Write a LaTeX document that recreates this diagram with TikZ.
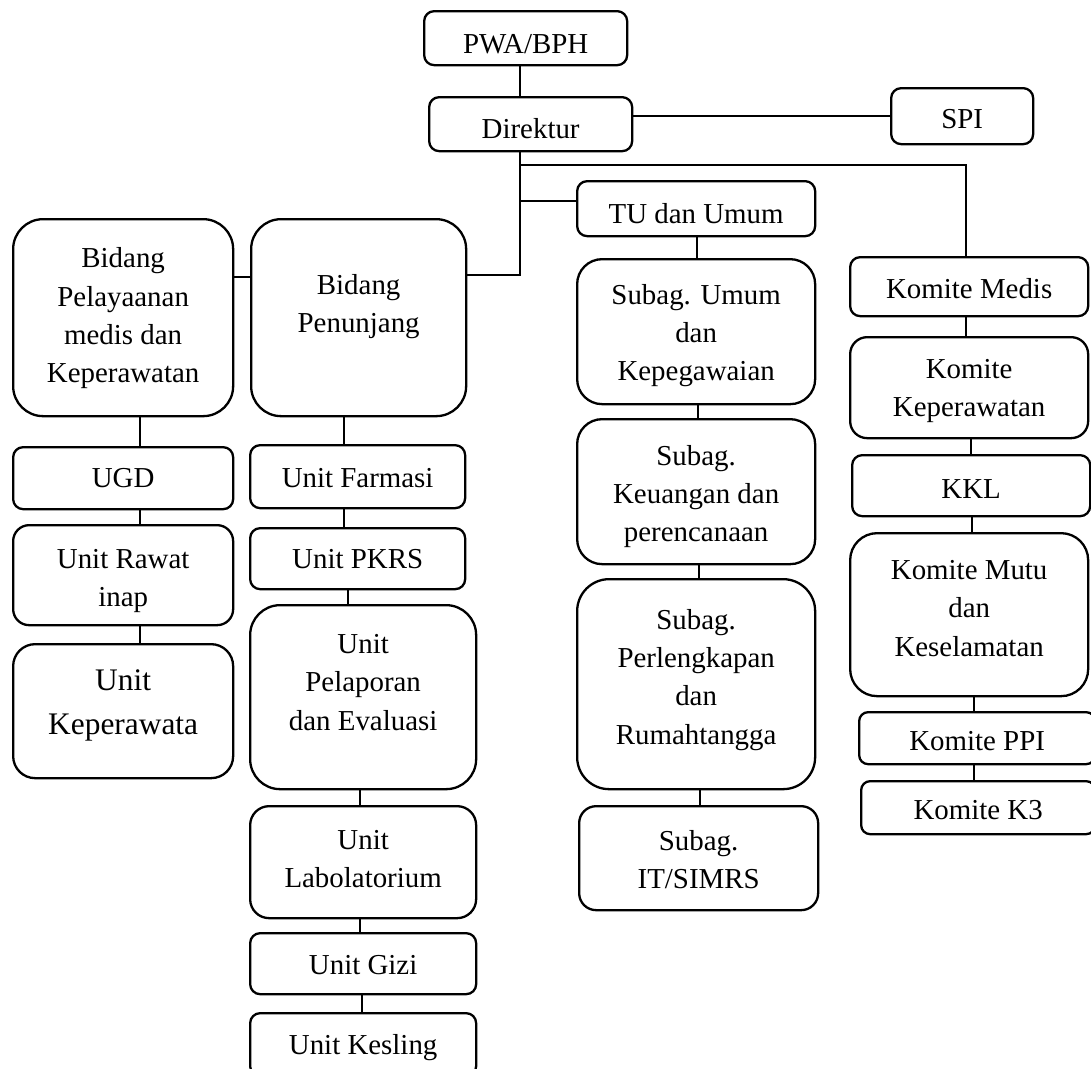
\documentclass[tikz,border=0pt]{standalone}
\usepackage{fontspec}
\setmainfont{Liberation Serif}
\newcommand{\lbl}[2][-3pt]{\raisebox{#1}[\height][\depth]{\begin{tabular}{@{}c@{}}#2\end{tabular}}}
\newcommand{\drop}[3]{\draw[link] ([xshift=#3]#1.south) -- ([xshift=#3]#1.south |- #2.north);}

\begin{document}
\begin{tikzpicture}[x=1pt, y=-1pt,
  font={\fontsize{28.9pt}{38.3pt}\selectfont},
  box/.style 2 args={draw, line width=2.3pt, anchor=north west, inner sep=0pt,
    minimum width=#1, minimum height=#2},
  link/.style={draw, line width=1.9pt}
]
\useasboundingbox (0,0) rectangle (1091,1068);
% top
\node[box={203pt}{54pt}, rounded corners=10pt] (pwa) at (423,10) {\lbl[-8pt]{PWA/BPH}};
\node[box={203pt}{54pt}, rounded corners=10pt] (direktur) at (428,96) {\lbl[-7pt]{Direktur}};
\node[box={142pt}{56pt}, rounded corners=10pt] (spi) at (890,87) {\lbl[-5pt]{SPI}};
\node[box={238pt}{55pt}, rounded corners=10pt] (tu) at (576,180) {\lbl[-7pt]{TU dan Umum}};
% bidang
\node[box={220pt}{197pt}, rounded corners=30pt] (bidpel) at (12,218) {\lbl[0pt]{Bidang\\Pelayaanan\\medis dan\\Keperawatan}};
\node[box={215pt}{197pt}, rounded corners=30pt] (bidpen) at (250,218) {\lbl[12pt]{Bidang\\Penunjang}};
\node[box={220pt}{62pt}, rounded corners=10pt] (ugd) at (12,446) {\lbl[-2pt]{UGD}};
\node[box={220pt}{100pt}, rounded corners=16pt] (rawat) at (12,524) {\lbl[-5pt]{Unit Rawat\\inap}};
\node[box={220pt}{134pt}, rounded corners=22pt, font={\fontsize{31.4pt}{44pt}\selectfont}] (keperawata) at (12,643) {\lbl[7.5pt]{Unit\\Keperawata}};
\node[box={215pt}{63pt}, rounded corners=10pt] (farmasi) at (249,444) {\lbl[-3pt]{Unit Farmasi}};
\node[box={215pt}{61pt}, rounded corners=10pt] (pkrs) at (249,527) {\lbl[-2pt]{Unit PKRS}};
\node[box={226pt}{184pt}, rounded corners=30pt] (pelaporan) at (249,604) {\lbl[13pt]{Unit\\Pelaporan\\dan Evaluasi}};
\node[box={226pt}{112pt}, rounded corners=19pt] (lab) at (249,805) {\lbl[1pt]{Unit\\Labolatorium}};
\node[box={226pt}{61pt}, rounded corners=10pt] (gizi) at (249,932) {\lbl[-3pt]{Unit Gizi}};
\node[box={226pt}{63pt}, rounded corners=10pt] (kesling) at (249,1012) {\lbl[-2pt]{Unit Kesling}};
% subag
\node[box={238pt}{145pt}, rounded corners=25pt] (subum) at (576,258) {\lbl[-3pt]{Subag. Umum\\dan\\Kepegawaian}};
\node[box={238pt}{145pt}, rounded corners=25pt] (keuangan) at (576,418) {\lbl[-4pt]{Subag.\\Keuangan dan\\perencanaan}};
\node[box={238pt}{210pt}, rounded corners=32pt] (perlengkapan) at (576,578) {\lbl[5pt]{Subag.\\Perlengkapan\\dan\\Rumahtangga}};
\node[box={239pt}{104pt}, rounded corners=17pt] (simrs) at (578,805) {\lbl[-4pt]{Subag.\\IT/SIMRS}};
% komite
\node[box={238pt}{59pt}, rounded corners=10pt] (medis) at (849,256) {\lbl[-4pt]{Komite Medis}};
\node[box={238pt}{101pt}, rounded corners=17pt] (komkep) at (849,336) {\lbl[-2pt]{Komite\\Keperawatan}};
\node[box={238pt}{61pt}, rounded corners=10pt] (kkl) at (851,454) {\lbl[-5pt]{KKL}};
\node[box={238pt}{163pt}, rounded corners=27pt] (mutu) at (849,532) {\lbl[4.5pt]{Komite Mutu\\dan\\Keselamatan}};
\node[box={236pt}{52pt}, rounded corners=9pt] (ppi) at (858,711) {\lbl[-5pt]{Komite PPI}};
\node[box={234pt}{53pt}, rounded corners=9pt] (kktiga) at (860,780) {\lbl[-4pt]{Komite K3}};
% lines
\coordinate (hub) at ([xshift=-11pt,yshift=-13pt]direktur.south);
\drop{pwa}{direktur}{-6pt}
\draw[link] (spi.west) -- (spi.west -| direktur.east);
\draw[link] ([xshift=-11pt]direktur.south) |- ([yshift=42.5pt]bidpen.east);
\draw[link] (hub) -| ([xshift=-3pt]medis.north);
\draw[link] ([yshift=7.5pt]tu.west) -| (hub);
\draw[link] ([yshift=40.5pt]bidpel.east) -- ([yshift=40.5pt]bidpen.west);
\drop{bidpel}{ugd}{16.5pt}
\drop{ugd}{rawat}{16.5pt}
\drop{rawat}{keperawata}{17pt}
\drop{bidpen}{farmasi}{-14.5pt}
\drop{farmasi}{pkrs}{-13.5pt}
\drop{pkrs}{pelaporan}{-9.5pt}
\drop{pelaporan}{lab}{-3pt}
\drop{lab}{gizi}{-3pt}
\drop{gizi}{kesling}{-1pt}
\drop{tu}{subum}{1pt}
\drop{subum}{keuangan}{2pt}
\drop{keuangan}{perlengkapan}{3pt}
\drop{perlengkapan}{simrs}{4pt}
\drop{medis}{komkep}{-3pt}
\drop{komkep}{kkl}{2pt}
\drop{kkl}{mutu}{1pt}
\drop{mutu}{ppi}{5pt}
\drop{ppi}{kktiga}{-3pt}
\end{tikzpicture}
\end{document}
